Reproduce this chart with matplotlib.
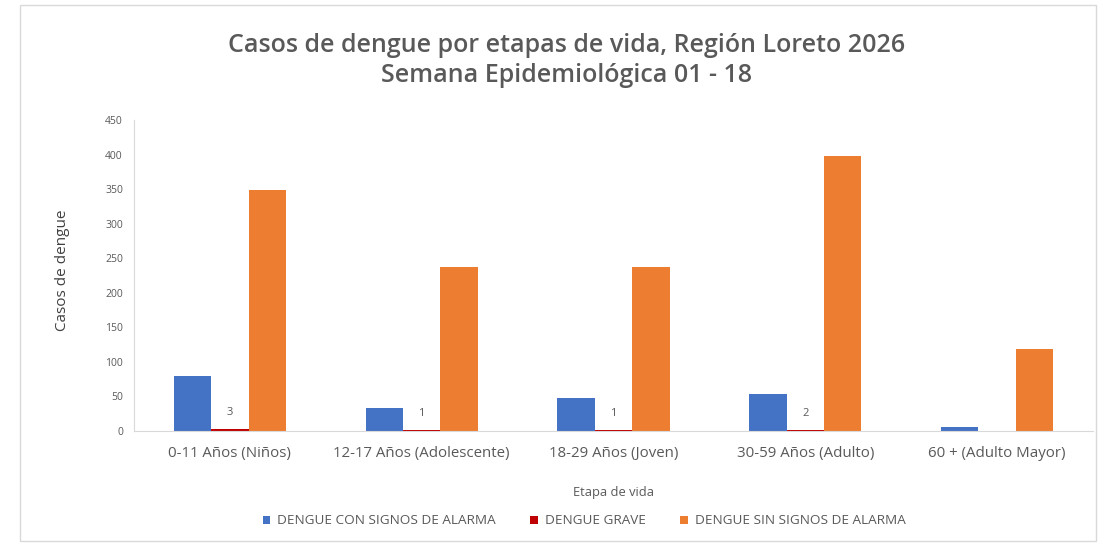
import matplotlib
matplotlib.use("Agg")
import matplotlib.pyplot as plt
from matplotlib.patches import Rectangle
import numpy as np

categories = ["0-11 Años (Niños)", "12-17 Años (Adolescente)", "18-29 Años (Joven)",
              "30-59 Años (Adulto)", "60 + (Adulto Mayor)"]
con_signos = [80, 33, 48, 53, 6]
grave = [3, 1, 1, 2, 0]
sin_signos = [348, 237, 237, 398, 119]
series_names = ["DENGUE CON SIGNOS DE ALARMA", "DENGUE GRAVE", "DENGUE SIN SIGNOS DE ALARMA"]
colors = ["#4472C4", "#C00000", "#ED7D31"]
yticks = [0, 50, 100, 150, 200, 250, 300, 350, 400, 450]

plt.rcParams['font.family'] = ['Open Sans', 'DejaVu Sans']
txt = "#595959"

W, H = 1099, 545
fig = plt.figure(figsize=(W / 100, H / 100), dpi=100)
fig.patches.append(Rectangle((20 / W, 1 - 541 / H), (1096 - 20) / W, (541 - 5) / H,
                             transform=fig.transFigure, fill=False,
                             edgecolor="#D9D9D9", linewidth=1))

ax = fig.add_axes([134 / W, 1 - 431 / H, (1093 - 134) / W, (431 - 120) / H])
x = np.arange(len(categories))
bw = 0.195
b1 = ax.bar(x - bw, con_signos, bw, color=colors[0], label=series_names[0])
b2 = ax.bar(x, grave, bw, color=colors[1], label=series_names[1])
b3 = ax.bar(x + bw, sin_signos, bw, color=colors[2], label=series_names[2])

for xi, v in zip(x, grave):
    if v > 0:
        ax.annotate(str(v), (xi, v), xytext=(0, 8), textcoords="offset points",
                    ha="center", va="bottom", fontsize=8, color=txt)

ax.set_xlim(-0.5, len(categories) - 0.5)
ax.set_ylim(0, 450)
ax.set_yticks(yticks)
ax.set_xticks(x)
ax.set_xticklabels(categories, fontsize=10.8, color=txt)
ax.tick_params(axis="y", labelsize=7.5, labelcolor=txt, length=0, pad=8)
ax.tick_params(axis="x", length=0, pad=11)
for s in ["top", "right"]:
    ax.spines[s].set_visible(False)
ax.spines["left"].set_color("#D9D9D9")
ax.spines["bottom"].set_color("#D9D9D9")

ax.set_xlabel("Etapa de vida", fontsize=9.3, color=txt, labelpad=18)
fig.text(62 / W, 1 - 270 / H, "Casos de dengue", rotation=90, ha="center", va="center",
         fontsize=11, color="#404040")

fig.text(567 / W, 1 - 45 / H, "Casos de dengue por etapas de vida, Región Loreto 2026",
         ha="center", va="center", fontsize=18, color=txt, fontweight="semibold")
fig.text(567 / W, 1 - 76 / H, "Semana Epidemiológica 01 - 18",
         ha="center", va="center", fontsize=18, color=txt, fontweight="semibold")

leg = fig.legend(handles=[b1, b2, b3], labels=series_names, loc="center",
                 bbox_to_anchor=(584 / W, 1 - 521 / H), ncol=3, frameon=False,
                 fontsize=9.7, handlelength=0.55, handleheight=0.55, columnspacing=2.6,
                 handletextpad=0.5, labelcolor=txt)

fig.savefig("out.png", dpi=100, facecolor="white")
